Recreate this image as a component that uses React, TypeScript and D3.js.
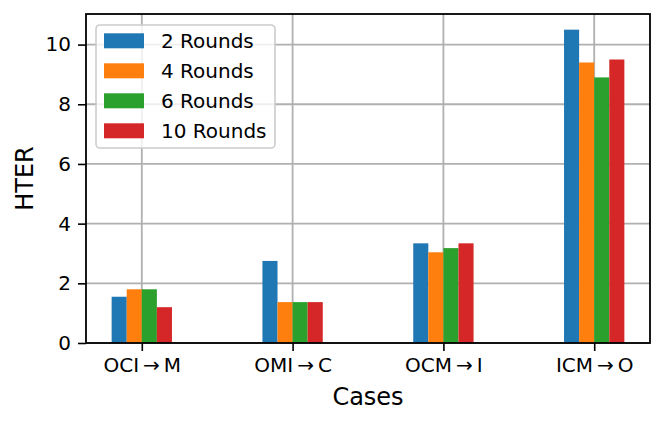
import React, { useRef, useEffect } from "react";
import { select, scaleLinear, scaleBand, axisBottom, axisLeft } from "d3";

const cases = ["OCI\u2009\u2192\u2009M", "OMI\u2009\u2192\u2009C", "OCM\u2009\u2192\u2009I", "ICM\u2009\u2192\u2009O"];
const seriesNames = ["2 Rounds", "4 Rounds", "6 Rounds", "10 Rounds"];
const rounds2 = [1.55, 2.75, 3.34, 10.5];
const rounds4 = [1.8, 1.37, 3.04, 9.4];
const rounds6 = [1.8, 1.37, 3.18, 8.9];
const rounds10 = [1.2, 1.37, 3.34, 9.5];
const yTicks = [0, 2, 4, 6, 8, 10];
const colors = ["#1f77b4", "#ff7f0e", "#2ca02c", "#d62728"];

const W = 664;
const H = 424;
const margin = { left: 86, right: 14, top: 14, bottom: 81 };
const FONT = "DejaVu Sans, sans-serif";

function BarChart() {
    const svgRef = useRef(null);

    useEffect(() => {
        const svg = select(svgRef.current);
        svg.selectAll("*").remove();

        const width = W - margin.left - margin.right;
        const height = H - margin.top - margin.bottom;
        const series = [rounds2, rounds4, rounds6, rounds10];

        // x: each category has a slot of 1 unit, matplotlib margins -> ~0.37 unit at each end
        const xLin = scaleLinear().domain([-0.37, cases.length - 1 + 0.37]).range([0, width]);
        const yScale = scaleLinear().domain([0, 10.5 * 1.05]).range([height, 0]);
        const inner = scaleBand()
            .domain(seriesNames)
            .range([-0.2, 0.2])
            .padding(0);

        const g = svg.append("g").attr("transform", `translate(${margin.left},${margin.top})`);

        // grid
        g.selectAll(".hgrid")
            .data(yTicks)
            .join("line")
            .attr("x1", 0)
            .attr("x2", width)
            .attr("y1", d => yScale(d))
            .attr("y2", d => yScale(d))
            .attr("stroke", "#b0b0b0")
            .attr("stroke-width", 1.8);
        g.selectAll(".vgrid")
            .data(cases)
            .join("line")
            .attr("x1", (d, i) => xLin(i))
            .attr("x2", (d, i) => xLin(i))
            .attr("y1", 0)
            .attr("y2", height)
            .attr("stroke", "#b0b0b0")
            .attr("stroke-width", 1.8);

        // bars
        series.forEach((vals, s) => {
            g.append("g")
                .selectAll("rect")
                .data(vals)
                .join("rect")
                .attr("x", (d, i) => xLin(i + inner(seriesNames[s])))
                .attr("width", xLin(inner.bandwidth()) - xLin(0))
                .attr("y", d => yScale(d))
                .attr("height", d => height - yScale(d))
                .attr("fill", colors[s]);
        });

        // axes
        const xAxis = axisBottom(xLin)
            .tickValues(cases.map((c, i) => i))
            .tickFormat((d, i) => cases[i])
            .tickSize(8)
            .tickPadding(7)
            .tickSizeOuter(0);
        const xg = g.append("g").attr("transform", `translate(0,${height})`).call(xAxis);

        const yAxis = axisLeft(yScale)
            .tickValues(yTicks)
            .tickSize(8)
            .tickPadding(7)
            .tickSizeOuter(0);
        const yg = g.append("g").call(yAxis);

        [xg, yg].forEach(a => {
            a.select(".domain").remove();
            a.selectAll(".tick line").attr("stroke", "#000").attr("stroke-width", 1.6);
            a.selectAll(".tick text")
                .attr("fill", "#000")
                .style("font-family", FONT)
                .style("font-size", "20px");
        });

        // frame
        g.append("rect")
            .attr("width", width)
            .attr("height", height)
            .attr("fill", "none")
            .attr("stroke", "#000")
            .attr("stroke-width", 1.8);

        // axis labels
        svg.append("text")
            .attr("x", margin.left + width / 2)
            .attr("y", 405)
            .attr("text-anchor", "middle")
            .style("font-family", FONT)
            .style("font-size", "24px")
            .text("Cases");
        svg.append("text")
            .attr("transform", `translate(33,${margin.top + height / 2}) rotate(-90)`)
            .attr("text-anchor", "middle")
            .style("font-family", FONT)
            .style("font-size", "24px")
            .text("HTER");

        // legend
        const lg = svg.append("g");
        lg.append("rect")
            .attr("x", 96)
            .attr("y", 25)
            .attr("width", 179)
            .attr("height", 123)
            .attr("rx", 4)
            .attr("fill", "white")
            .attr("fill-opacity", 0.8)
            .attr("stroke", "#cccccc")
            .attr("stroke-width", 1.6);
        seriesNames.forEach((name, i) => {
            const top = 33.3 + i * 30;
            lg.append("rect")
                .attr("x", 104)
                .attr("y", top)
                .attr("width", 40)
                .attr("height", 15)
                .attr("fill", colors[i]);
            lg.append("text")
                .attr("x", 161)
                .attr("y", top + 14.5)
                .style("font-family", FONT)
                .style("font-size", "20px")
                .text(name);
        });
    }, []);

    return (
        <svg ref={svgRef} width={W} height={H}
            style={{ position: "absolute", left: 0, top: 0, background: "white" }} />
    );
}

export default function App() {
    return <BarChart />;
}
